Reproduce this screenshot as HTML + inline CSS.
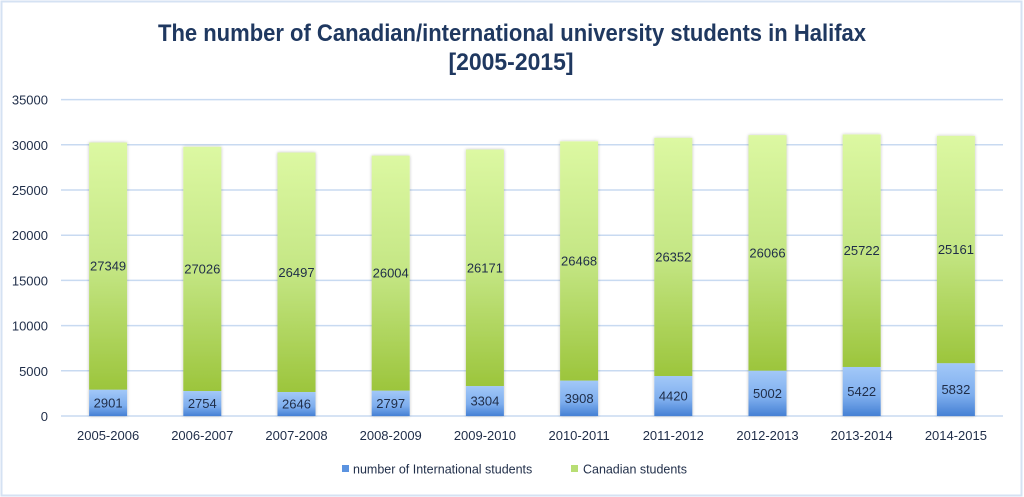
<!DOCTYPE html>
<html>
<head>
<meta charset="utf-8">
<style>
html,body{margin:0;padding:0;background:#fff;}
svg{display:block;}
text{font-family:"Liberation Sans",sans-serif;}
</style>
</head>
<body>
<svg width="1024" height="497" viewBox="0 0 1024 497" xmlns="http://www.w3.org/2000/svg">
<defs>
<linearGradient id="g" x1="0" y1="0" x2="0" y2="1">
<stop offset="0" stop-color="#dcf8a2"/>
<stop offset="0.5" stop-color="#c4e684"/>
<stop offset="1" stop-color="#9cc53c"/>
</linearGradient>
<linearGradient id="b" x1="0" y1="0" x2="0" y2="1">
<stop offset="0" stop-color="#a2c8f8"/>
<stop offset="0.6" stop-color="#7eaeee"/>
<stop offset="1" stop-color="#4580d4"/>
</linearGradient>
<filter id="sh" x="-20%" y="-5%" width="140%" height="110%">
<feGaussianBlur in="SourceAlpha" stdDeviation="1.5"/>
<feOffset dx="0" dy="0" result="o"/>
<feComponentTransfer><feFuncA type="linear" slope="0.25"/></feComponentTransfer>
<feMerge><feMergeNode/><feMergeNode in="SourceGraphic"/></feMerge>
</filter>
</defs>
<rect x="1.5" y="1.5" width="1020" height="494" fill="#fff" stroke="#d5e2f3" stroke-width="2"/>
<text x="512" y="41" text-anchor="middle" font-size="24" font-weight="bold" fill="#1f3860" textLength="708" lengthAdjust="spacingAndGlyphs">The number of Canadian/international  university students in Halifax</text>
<text x="511" y="70" text-anchor="middle" font-size="24" font-weight="bold" fill="#1f3860" textLength="125" lengthAdjust="spacingAndGlyphs">[2005-2015]</text>
<g stroke="#c8daf1" stroke-width="1.5">
<line x1="61" y1="416" x2="1003" y2="416"/>
<line x1="61" y1="370.8" x2="1003" y2="370.8"/>
<line x1="61" y1="325.6" x2="1003" y2="325.6"/>
<line x1="61" y1="280.4" x2="1003" y2="280.4"/>
<line x1="61" y1="235.2" x2="1003" y2="235.2"/>
<line x1="61" y1="190" x2="1003" y2="190"/>
<line x1="61" y1="144.8" x2="1003" y2="144.8"/>
<line x1="61" y1="99.6" x2="1003" y2="99.6"/>
</g>
<g font-size="13" fill="#1f2d48" text-anchor="end">
<text x="48" y="421">0</text>
<text x="48" y="375.8">5000</text>
<text x="48" y="330.6">10000</text>
<text x="48" y="285.4">15000</text>
<text x="48" y="240.2">20000</text>
<text x="48" y="195">25000</text>
<text x="48" y="149.8">30000</text>
<text x="48" y="104.6">35000</text>
</g>
<g id="bars" filter="url(#sh)"></g>
<g id="labels" font-size="13" fill="#1f2d48" text-anchor="middle"></g>
<g font-size="12.5" fill="#1f2d48">
<rect x="342" y="465" width="7" height="7" fill="#5b93e0"/>
<text x="353" y="473.5">number of International students</text>
<rect x="571" y="465" width="7" height="7" fill="#b8de74"/>
<text x="583" y="473.5" textLength="104" lengthAdjust="spacingAndGlyphs">Canadian students</text>
</g>
<script>
var intl=[2901,2754,2646,2797,3304,3908,4420,5002,5422,5832];
var can=[27349,27026,26497,26004,26171,26468,26352,26066,25722,25161];
var cats=["2005-2006","2006-2007","2007-2008","2008-2009","2009-2010","2010-2011","2011-2012","2012-2013","2013-2014","2014-2015"];
var ns="http://www.w3.org/2000/svg";
var bars=document.getElementById("bars"),labels=document.getElementById("labels");
var k=45.2/5000,y0=416;
function el(t,a,p,txt){var e=document.createElementNS(ns,t);for(var n in a)e.setAttribute(n,a[n]);if(txt!==undefined)e.textContent=txt;p.appendChild(e);return e;}
for(var i=0;i<10;i++){
 var cx=61+i*94.2+47.1,x=cx-19;
 var yb=y0-intl[i]*k, yt=yb-can[i]*k;
 el("rect",{x:x,y:yt,width:38,height:yb-yt,fill:"url(#g)"},bars);
 el("rect",{x:x,y:yb,width:38,height:y0-yb,fill:"url(#b)"},bars);
 el("text",{x:cx,y:(yt+yb)/2+4.5},labels,String(can[i]));
 el("text",{x:cx,y:(yb+y0)/2+4.5},labels,String(intl[i]));
 el("text",{x:cx,y:440},labels,cats[i]);
}
</script>
</svg>
</body>
</html>
